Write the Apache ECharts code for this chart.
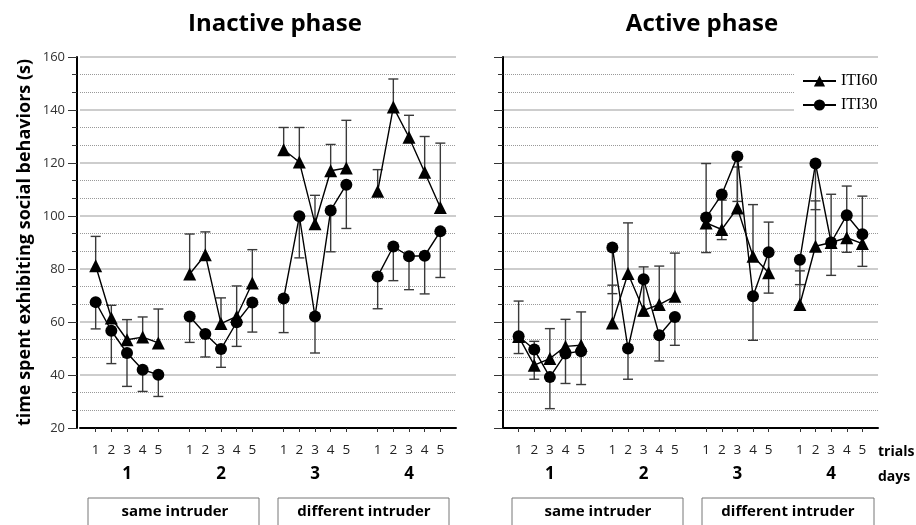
<!DOCTYPE html>
<html>
<head>
<meta charset="utf-8">
<script src="https://cdn.jsdelivr.net/npm/echarts@6/dist/echarts.min.js"></script>
<style>
  html, body { margin: 0; padding: 0; background: #fff; }
  #chart { width: 916px; height: 525px; }
</style>
</head>
<body>
<div id="chart"></div>
<script>
// data, 4 days x 5 trials per series
const trials = ['1', '2', '3', '4', '5']
const days = ['1', '2', '3', '4']
const yTicks = [20, 40, 60, 80, 100, 120, 140, 160]

const inactiveITI60 = [81.2, 61.5, 53.3, 54.3, 52.1, 78.1, 85.4, 59.4, 62.1, 74.7, 125.0, 120.4, 97.1, 117.1, 118.1, 109.3, 141.1, 129.7, 116.5, 103.2]
const inactiveITI60Up = [92.3, 66.3, 60.9, 61.9, 64.9, 93.2, 94.0, 69.1, 73.6, 87.3, 133.4, 133.4, 107.8, 127.0, 136.1, 117.5, 151.7, 138.0, 130.0, 127.5]
const inactiveITI30 = [67.5, 56.7, 48.3, 42.0, 40.1, 62.1, 55.5, 49.8, 59.9, 67.4, 68.9, 99.9, 62.1, 102.1, 111.8, 77.2, 88.5, 84.8, 85.0, 94.2]
const inactiveITI30Low = [57.4, 44.3, 35.7, 33.8, 31.9, 52.3, 46.8, 42.9, 50.8, 56.2, 56.0, 84.2, 48.3, 86.5, 95.3, 65.0, 75.6, 72.2, 70.6, 76.8]

const activeITI60 = [54.5, 43.7, 46.2, 50.8, 51.2, 59.6, 78.3, 64.4, 66.6, 69.7, 97.4, 94.9, 103.0, 84.8, 78.6, 66.6, 88.6, 90.0, 91.8, 89.6]
const activeITI60Up = [67.9, 52.7, 57.5, 61.0, 63.8, 73.9, 97.4, 80.8, 81.1, 86.0, 119.8, 106.0, 118.5, 104.3, 97.7, 79.3, 105.7, 108.2, 111.3, 107.5]
const activeITI30 = [54.6, 49.6, 39.2, 48.1, 49.0, 88.1, 50.0, 76.1, 55.0, 61.9, 99.4, 108.1, 122.5, 69.7, 86.3, 83.5, 119.8, 90.0, 100.3, 93.1]
const activeITI30Low = [48.1, 38.4, 27.3, 36.8, 36.4, 70.7, 38.4, 62.2, 45.3, 51.2, 86.2, 91.1, 105.5, 53.1, 70.9, 74.1, 102.4, 77.6, 86.3, 81.0]

// category slots: blank, 5 trials, blank, 5 trials ... blank  (25 slots)
const slotCount = days.length * (trials.length + 1) + 1
const idxOf = (d, t) => 1 + d * (trials.length + 1) + t
const trialCats = []
const dayCats = []
for (let i = 0; i < slotCount; i++) { trialCats.push(''); dayCats.push('') }
days.forEach((d, di) => {
  trials.forEach((t, ti) => { trialCats[idxOf(di, ti)] = t })
  dayCats[idxOf(di, 2)] = d
})

const toSlots = vals => {
  const out = new Array(slotCount).fill(null)
  vals.forEach((v, i) => { out[idxOf(Math.floor(i / 5), i % 5)] = v })
  return out
}
const toBars = (vals, ends) => vals.map((v, i) => [idxOf(Math.floor(i / 5), i % 5), v, ends[i]])

const FONT = '"Open Sans", "Noto Sans", sans-serif'

function errBar(params, api) {
  const x = api.value(0)
  const p0 = api.coord([x, api.value(1)])
  const p1 = api.coord([x, api.value(2)])
  const st = {stroke: '#3a3a3a', lineWidth: 1.4}
  return {
    type: 'group',
    children: [
      {type: 'line', shape: {x1: p0[0], y1: p0[1], x2: p1[0], y2: p1[1]}, style: st},
      {type: 'line', shape: {x1: p1[0] - 5, y1: p1[1], x2: p1[0] + 5, y2: p1[1]}, style: st}
    ]
  }
}

const xAxisFor = (gi) => ([
  {
    gridIndex: gi, type: 'category', data: trialCats, boundaryGap: false,
    axisLine: {lineStyle: {color: '#000', width: 2}},
    axisTick: {show: true, length: 4, interval: (i, v) => v !== '', lineStyle: {color: '#333'}},
    axisLabel: {interval: 0, margin: 15, fontFamily: FONT, fontSize: 13.5, color: '#222'},
    splitLine: {show: false}
  },
  {
    gridIndex: gi, type: 'category', data: dayCats, boundaryGap: false, position: 'bottom',
    axisLine: {show: false}, axisTick: {show: false},
    axisLabel: {interval: 0, margin: 38, fontFamily: FONT, fontSize: 17, fontWeight: 'bold', color: '#000'},
    splitLine: {show: false}
  }
])

const yAxisFor = (gi, showLabels) => ({
  gridIndex: gi, type: 'value', min: yTicks[0], max: yTicks[yTicks.length - 1], interval: 20,
  offset: gi === 0 ? 3 : 0,
  name: showLabels ? 'time spent exhibiting social behaviors (s)' : '',
  nameLocation: 'middle', nameGap: 43, nameRotate: 90,
  nameTextStyle: {fontFamily: FONT, fontSize: 18, fontWeight: 'bold', color: '#000'},
  axisLine: {show: true, lineStyle: {color: '#000', width: 2}},
  axisTick: {show: true, length: 9, lineStyle: {color: '#333'}},
  minorTick: {show: true, splitNumber: 3, length: 5, lineStyle: {color: '#333'}},
  axisLabel: {show: showLabels, margin: 12, fontFamily: FONT, fontSize: 13, color: '#333'},
  splitLine: {show: true, lineStyle: {color: '#bcbcbc', width: 1.5}},
  minorSplitLine: {show: true, lineStyle: {color: '#999', type: 'dotted', width: 1}}
})

const lineSeries = (name, gi, vals, symbol, size) => ({
  name, type: 'line', xAxisIndex: gi * 2, yAxisIndex: gi,
  data: toSlots(vals), connectNulls: false,
  symbol, symbolSize: size,
  itemStyle: {color: '#000'}, lineStyle: {color: '#000', width: 1.4},
  z: 3
})
const barSeries = (gi, vals, ends) => ({
  type: 'custom', xAxisIndex: gi * 2, yAxisIndex: gi,
  renderItem: errBar, data: toBars(vals, ends),
  encode: {x: 0, y: [1, 2]}, z: 2, silent: true
})

const chart = echarts.init(document.getElementById('chart'))
chart.setOption({
  backgroundColor: '#fff',
  animation: false,
  title: [
    {text: 'Inactive phase', left: 270, top: 7, textAlign: 'center',
      textStyle: {fontFamily: FONT, fontSize: 24, fontWeight: 'bold', color: '#000'}},
    {text: 'Active phase', left: 697, top: 7, textAlign: 'center',
      textStyle: {fontFamily: FONT, fontSize: 24, fontWeight: 'bold', color: '#000'}}
  ],
  legend: {
    data: ['ITI60', 'ITI30'], orient: 'vertical', left: 794, top: 66,
    backgroundColor: '#fff', padding: [7, 8, 7, 8], itemGap: 8,
    itemWidth: 33, itemHeight: 14,
    textStyle: {fontFamily: '"Liberation Serif", "DejaVu Serif", serif', fontSize: 16, color: '#000'}
  },
  grid: [
    {left: 80, right: 460, top: 57, bottom: 97},
    {left: 503, right: 38, top: 57, bottom: 97}
  ],
  xAxis: [...xAxisFor(0), ...xAxisFor(1)],
  yAxis: [yAxisFor(0, true), yAxisFor(1, false)],
  graphic: [
    {type: 'rect', shape: {x: 88, y: 498, width: 171, height: 40}, style: {fill: 'none', stroke: '#777', lineWidth: 1}},
    {type: 'rect', shape: {x: 278, y: 498, width: 171, height: 40}, style: {fill: 'none', stroke: '#777', lineWidth: 1}},
    {type: 'rect', shape: {x: 512, y: 498, width: 171, height: 40}, style: {fill: 'none', stroke: '#777', lineWidth: 1}},
    {type: 'rect', shape: {x: 702, y: 498, width: 172, height: 40}, style: {fill: 'none', stroke: '#777', lineWidth: 1}},
    {type: 'text', x: 175, y: 512, style: {text: 'same intruder', font: 'bold 15px ' + FONT, fill: '#000', align: 'center', verticalAlign: 'middle'}},
    {type: 'text', x: 364, y: 512, style: {text: 'different intruder', font: 'bold 15px ' + FONT, fill: '#000', align: 'center', verticalAlign: 'middle'}},
    {type: 'text', x: 598, y: 512, style: {text: 'same intruder', font: 'bold 15px ' + FONT, fill: '#000', align: 'center', verticalAlign: 'middle'}},
    {type: 'text', x: 788, y: 512, style: {text: 'different intruder', font: 'bold 15px ' + FONT, fill: '#000', align: 'center', verticalAlign: 'middle'}},
    {type: 'text', x: 878, y: 452, style: {text: 'trials', font: 'bold 14px ' + FONT, fill: '#000', align: 'left', verticalAlign: 'middle'}},
    {type: 'text', x: 878, y: 477, style: {text: 'days', font: 'bold 14px ' + FONT, fill: '#000', align: 'left', verticalAlign: 'middle'}}
  ],
  series: [
    barSeries(0, inactiveITI60, inactiveITI60Up),
    barSeries(0, inactiveITI30, inactiveITI30Low),
    lineSeries('ITI60', 0, inactiveITI60, 'triangle', 13),
    lineSeries('ITI30', 0, inactiveITI30, 'circle', 12),
    barSeries(1, activeITI60, activeITI60Up),
    barSeries(1, activeITI30, activeITI30Low),
    lineSeries('ITI60', 1, activeITI60, 'triangle', 13),
    lineSeries('ITI30', 1, activeITI30, 'circle', 12)
  ]
})
</script>
</body>
</html>
